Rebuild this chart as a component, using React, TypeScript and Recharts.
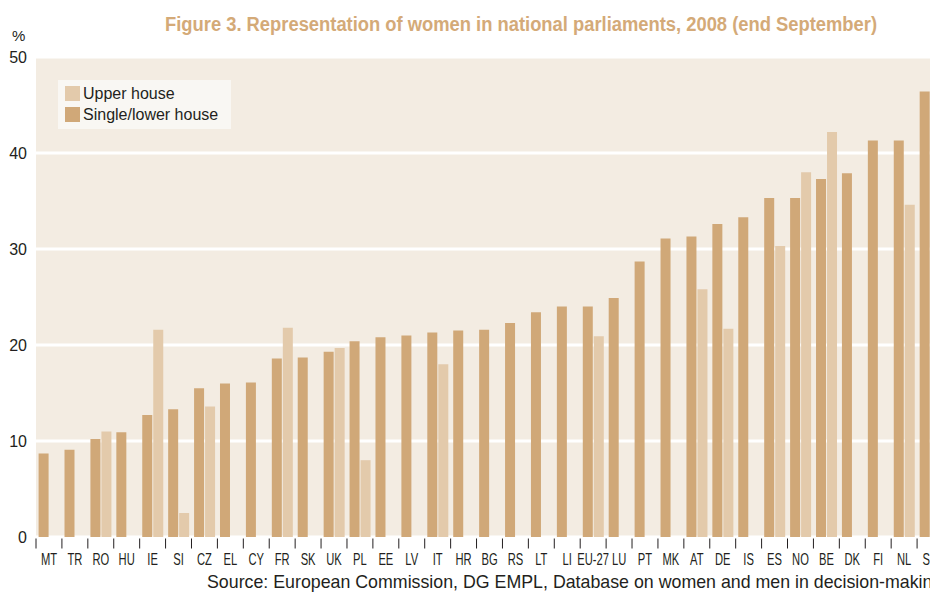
import React from "react";
import { BarChart, Bar, XAxis, YAxis, CartesianGrid } from "recharts";

// Women's share of seats, % (end September 2008)
const countries = [
  "MT", "TR", "RO", "HU", "IE", "SI", "CZ", "EL", "CY", "FR", "SK", "UK",
  "PL", "EE", "LV", "IT", "HR", "BG", "RS", "LT", "LI", "EU-27", "LU", "PT",
  "MK", "AT", "DE", "IS", "ES", "NO", "BE", "DK", "FI", "NL", "SE",
];
const lowerHouse = [
  8.7, 9.1, 10.2, 10.9, 12.7, 13.3, 15.5, 16.0, 16.1, 18.6, 18.7, 19.3,
  20.4, 20.8, 21.0, 21.3, 21.5, 21.6, 22.3, 23.4, 24.0, 24.0, 24.9, 28.7,
  31.1, 31.3, 32.6, 33.3, 35.3, 35.3, 37.3, 37.9, 41.3, 41.3, 46.4,
];
const upperHouse = [
  null, null, 11.0, null, 21.6, 2.5, 13.6, null, null, 21.8, null, 19.7,
  8.0, null, null, 18.0, null, null, null, null, null, 20.9, null, null,
  null, 25.8, 21.7, null, 30.3, 38.0, 42.2, null, null, 34.6, null,
];
const yTicks = [0, 10, 20, 30, 40, 50];

const data = countries.map((c, i) => ({
  country: c,
  lower: lowerHouse[i],
  upper: upperHouse[i],
}));

const LOWER = "#d0a878";
const UPPER = "#e3caab";
const INK = "#231f20";
const SANS = "'Liberation Sans', Arial, sans-serif";

const CHART_W = 943;
const Y_W = 36;
const BAND = (CHART_W - Y_W) / countries.length;

// the original uses a condensed face; squeeze the regular one horizontally
function CountryTick({ x, y, payload }: any) {
  const left = x - BAND / 2;
  return (
    <g>
      <line x1={left} x2={left} y1={y + 1.5} y2={y + 11.5} stroke={INK} strokeWidth={1} />
      <text
        transform={`translate(${x},${y + 28}) scale(0.7,1)`}
        textAnchor="middle"
        fontSize={16}
        fill={INK}
        fontFamily={SANS}
      >
        {payload.value}
      </text>
    </g>
  );
}

export default function App() {
  return (
    <div
      style={{
        position: "fixed",
        left: 0,
        top: 0,
        width: 930,
        height: 592,
        overflow: "hidden",
        background: "#fff",
        fontFamily: SANS,
        color: INK,
      }}
    >
      <svg width={930} height={40} style={{ position: "absolute", left: 0, top: 0 }}>
        <text
          x={165}
          y={31}
          textLength={712}
          lengthAdjust="spacingAndGlyphs"
          fontFamily={SANS}
          fontWeight="bold"
          fontSize={20}
          fill="#d4aa78"
        >
          Figure 3. Representation of women in national parliaments, 2008 (end September)
        </text>
      </svg>
      <div style={{ position: "absolute", left: 12, top: 27, fontSize: 15 }}>%</div>

      <BarChart
        width={CHART_W}
        height={592}
        data={data}
        margin={{ top: 57, right: 0, bottom: 0, left: 0 }}
        barCategoryGap="10%"
        barGap={1}
      >
        <CartesianGrid
          vertical={false}
          fill="#f3ece2"
          stroke="#ffffff"
          strokeWidth={3}
          fillOpacity={1}
        />
        <XAxis
          dataKey="country"
          interval={0}
          height={55}
          tickLine={false}
          axisLine={false}
          tickSize={0}
          tickMargin={0}
          tick={<CountryTick />}
        />
        <YAxis
          width={Y_W}
          domain={[0, 50]}
          ticks={yTicks}
          axisLine={false}
          tickLine={false}
          tickMargin={3}
          tick={{ fontSize: 16, fill: INK, fontFamily: SANS }}
        />
        <Bar dataKey="lower" fill={LOWER} isAnimationActive={false} />
        <Bar dataKey="upper" fill={UPPER} isAnimationActive={false} />
      </BarChart>

      <div
        style={{
          position: "absolute",
          left: 58,
          top: 80,
          width: 173,
          height: 49,
          background: "#f9f7f3",
          fontSize: 16,
        }}
      >
        <div style={{ position: "absolute", left: 7, top: 6, width: 15, height: 15, background: UPPER }} />
        <div style={{ position: "absolute", left: 25, top: 5, lineHeight: "18px" }}>Upper house</div>
        <div style={{ position: "absolute", left: 7, top: 27, width: 15, height: 15, background: LOWER }} />
        <div style={{ position: "absolute", left: 25, top: 26, lineHeight: "18px" }}>Single/lower house</div>
      </div>

      <div style={{ position: "absolute", left: 207, top: 572, fontSize: 17.8, whiteSpace: "nowrap" }}>
        Source: European Commission, DG EMPL, Database on women and men in decision-making
      </div>
    </div>
  );
}
